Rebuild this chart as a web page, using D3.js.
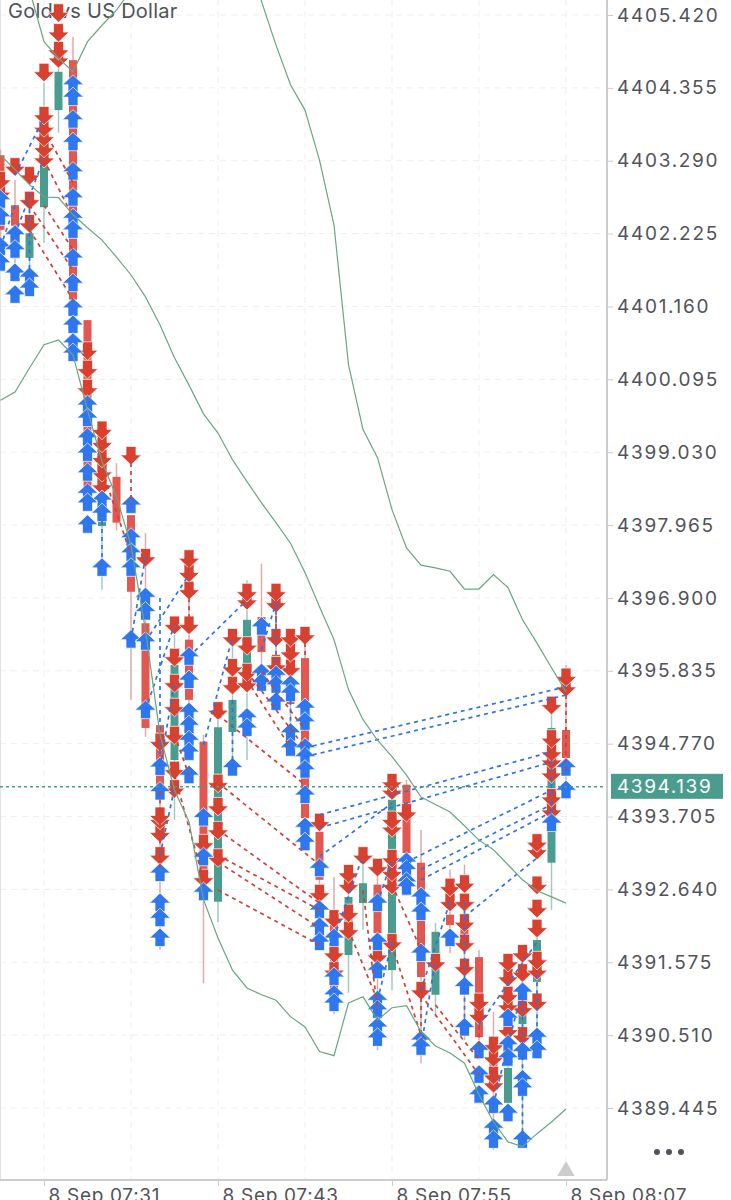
<!DOCTYPE html>
<html>
<head>
<meta charset="utf-8">
<script src="https://cdn.jsdelivr.net/npm/d3@7"></script>
<style>
  html, body { margin: 0; padding: 0; background: #fff; overflow: hidden; }
  text { font-family: "Inter", "Liberation Sans", sans-serif; }
</style>
</head>
<body>
<div id="chart"></div>
<script>
// Gold vs US Dollar, 1 minute candles with trade arrows. minute = minutes after 07:31

var svgWidth = 731;
var svgHeight = 1200;
var plotRight = 607;
var plotBottom = 1180;

var yTickValues = [4405.420, 4404.355, 4403.290, 4402.225, 4401.160, 4400.095, 4399.030, 4397.965,
    4396.900, 4395.835, 4394.770, 4393.705, 4392.640, 4391.575, 4390.510, 4389.445];
var xTickMinutes = [0, 12, 24, 36];
var xTickLabels = ["8 Sep 07:31", "8 Sep 07:43", "8 Sep 07:55", "8 Sep 08:07"];
var xGridMinutes = [0, 6, 12, 18, 24, 30, 36];
var lastPrice = 4394.139;

// minute, open, high, low, close
var candles = [
    [-3, 4403.37, 4403.45, 4401.69, 4402.28],
    [-2, 4402.64, 4403.01, 4401.66, 4402.34],
    [-1, 4401.87, 4402.64, 4401.47, 4402.23],
    [0, 4402.61, 4404.43, 4402.09, 4403.23],
    [1, 4404.03, 4405.06, 4403.70, 4404.59],
    [2, 4404.76, 4405.10, 4400.60, 4401.26],
    [3, 4400.96, 4400.96, 4398.19, 4398.48],
    [4, 4397.95, 4398.41, 4397.02, 4398.26],
    [5, 4398.67, 4398.87, 4397.89, 4398.00],
    [6, 4398.11, 4398.11, 4395.41, 4396.99],
    [7, 4396.53, 4397.85, 4394.87, 4395.00],
    [8, 4395.04, 4395.04, 4391.76, 4394.17],
    [9, 4394.53, 4396.36, 4393.66, 4395.92],
    [10, 4396.29, 4396.90, 4395.35, 4395.41],
    [11, 4394.80, 4394.90, 4391.27, 4392.92],
    [12, 4392.46, 4395.12, 4392.16, 4395.01],
    [13, 4394.94, 4396.30, 4394.39, 4395.41],
    [14, 4395.85, 4397.16, 4394.53, 4396.58],
    [15, 4396.62, 4397.40, 4395.56, 4396.11],
    [16, 4396.07, 4396.87, 4395.41, 4395.99],
    [17, 4395.41, 4396.30, 4394.75, 4395.35],
    [18, 4396.02, 4396.36, 4393.29, 4393.68],
    [19, 4393.48, 4393.73, 4391.83, 4392.78],
    [20, 4392.12, 4392.82, 4390.81, 4391.17],
    [21, 4391.68, 4392.78, 4391.13, 4392.53],
    [22, 4392.44, 4393.07, 4392.05, 4392.73],
    [23, 4392.71, 4392.93, 4390.29, 4392.00],
    [24, 4391.46, 4394.23, 4391.17, 4393.95],
    [25, 4394.17, 4394.24, 4392.55, 4393.17],
    [26, 4393.03, 4393.51, 4390.10, 4391.36],
    [27, 4391.10, 4392.15, 4390.78, 4392.02],
    [28, 4392.27, 4392.93, 4391.71, 4392.12],
    [29, 4392.10, 4393.00, 4390.44, 4391.90],
    [30, 4391.65, 4391.75, 4390.15, 4390.48],
    [31, 4390.15, 4390.85, 4388.83, 4389.89],
    [32, 4389.52, 4390.44, 4389.36, 4390.03],
    [33, 4390.67, 4391.75, 4388.86, 4390.85],
    [34, 4391.29, 4392.12, 4390.58, 4391.90],
    [35, 4393.03, 4395.38, 4392.34, 4395.00],
    [36, 4394.97, 4395.92, 4393.95, 4394.56]
];

// sell markers, red down arrows: minute, prices
var sellArrows = [
    [-3, [4403.01, 4402.83]],
    [-2, [4403.21]],
    [-1, [4403.08, 4402.72, 4402.38]],
    [0, [4404.59, 4403.96, 4403.78, 4403.64, 4403.48, 4403.33]],
    [1, [4405.46, 4405.17, 4404.91, 4404.79]],
    [3, [4400.52, 4400.25, 4399.97]],
    [4, [4399.36, 4399.17, 4398.95, 4398.74, 4398.55]],
    [6, [4398.99]],
    [7, [4397.50]],
    [8, [4394.80, 4393.72, 4393.66, 4393.47, 4393.14]],
    [9, [4396.51, 4396.04, 4395.66, 4395.31, 4394.90, 4394.39, 4394.12]],
    [10, [4397.48, 4397.27, 4397.02, 4396.51]],
    [11, [4393.32, 4392.81]],
    [12, [4395.26, 4394.20, 4393.86, 4393.51, 4393.11]],
    [13, [4396.33, 4395.89, 4395.63]],
    [14, [4396.99, 4396.87, 4396.21, 4395.82, 4395.66]],
    [16, [4396.99, 4396.83, 4396.33, 4395.92]],
    [17, [4396.33, 4396.11, 4395.88]],
    [18, [4396.36]],
    [19, [4393.63, 4392.59]],
    [20, [4392.22, 4391.71, 4391.46]],
    [21, [4392.88, 4392.71, 4392.30, 4392.05]],
    [22, [4393.14]],
    [23, [4392.97, 4391.68]],
    [24, [4394.21, 4394.09, 4393.66, 4393.55, 4393.10, 4392.90, 4392.71, 4391.87]],
    [25, [4393.77]],
    [26, [4391.17]],
    [27, [4391.58]],
    [28, [4392.68, 4392.46]],
    [29, [4392.73, 4392.46, 4392.16, 4391.86, 4391.51]],
    [30, [4391.00, 4390.81]],
    [31, [4390.37, 4390.19, 4389.93, 4389.81]],
    [32, [4391.58, 4391.36, 4391.10, 4390.95, 4390.59]],
    [33, [4391.71, 4391.43, 4390.91, 4390.51]],
    [34, [4393.33, 4393.22, 4392.71, 4392.37, 4392.08, 4391.61, 4391.46, 4391.00]],
    [35, [4395.34, 4394.85, 4394.65, 4394.53, 4394.34, 4393.99, 4393.80]],
    [36, [4395.75, 4395.60]]
];

// buy markers, blue up arrows: minute, prices
var buyArrows = [
    [-3, [4402.72, 4402.47, 4402.03, 4401.80]],
    [-2, [4402.21, 4401.99, 4401.65, 4401.33]],
    [-1, [4401.59, 4401.43]],
    [2, [4404.40, 4404.22, 4403.89, 4403.56, 4403.13, 4402.75, 4402.45, 4402.28, 4401.87, 4401.50, 4401.14, 4400.89, 4400.63, 4400.48]],
    [3, [4399.72, 4399.53, 4399.24, 4399.02, 4398.73, 4398.43, 4398.29, 4397.97]],
    [4, [4398.33, 4398.14, 4397.34]],
    [6, [4398.26, 4397.78, 4397.56, 4397.34, 4396.29]],
    [7, [4396.91, 4396.70, 4396.26, 4395.26]],
    [8, [4394.43, 4394.07, 4392.88, 4392.44, 4392.22, 4391.93]],
    [10, [4396.04, 4395.70, 4395.23, 4395.04, 4394.82, 4394.65, 4394.31]],
    [11, [4393.69, 4393.11, 4392.60]],
    [13, [4394.42]],
    [14, [4395.15, 4395.00]],
    [15, [4396.48, 4395.80, 4395.66]],
    [16, [4395.77, 4395.63, 4395.38]],
    [17, [4395.63, 4395.51, 4394.93, 4394.71]],
    [18, [4395.29, 4395.09, 4394.71, 4394.58, 4394.39, 4394.02, 4393.55, 4393.33]],
    [19, [4392.95, 4392.34, 4392.09, 4391.87]],
    [20, [4391.93, 4391.36, 4391.10, 4390.98]],
    [23, [4392.44, 4391.87, 4391.46, 4391.02, 4390.88, 4390.63, 4390.47]],
    [25, [4393.04, 4392.93, 4392.75, 4392.68]],
    [26, [4392.53, 4392.31, 4391.71, 4390.44, 4390.34]],
    [28, [4391.93]],
    [29, [4391.22, 4390.62]],
    [30, [4390.29, 4389.93, 4389.64]],
    [31, [4389.49, 4389.15, 4388.98]],
    [32, [4390.76, 4390.37, 4390.18, 4389.37]],
    [33, [4391.14, 4390.27, 4389.86, 4389.74, 4388.98]],
    [34, [4390.48, 4390.29]],
    [35, [4393.61]],
    [36, [4394.42, 4394.09]]
];

// dashed trade links: from minute, from price, to minute, to price
var blueLinks = [
    [18, 4394.71, 36, 4395.60], [18, 4394.58, 36, 4395.48],
    [19, 4393.73, 35, 4394.65], [19, 4393.54, 35, 4394.50],
    [19, 4393.12, 24, 4393.90], [25, 4393.04, 35, 4394.09],
    [26, 4392.93, 35, 4393.88], [26, 4392.78, 35, 4393.77],
    [29, 4392.24, 34, 4393.10], [7, 4395.26, 9, 4396.51],
    [6, 4396.29, 7, 4397.50], [7, 4396.26, 10, 4397.24],
    [10, 4396.04, 14, 4396.87], [15, 4396.14, 16, 4396.83],
    [11, 4394.75, 13, 4396.33], [8, 4393.14, 9, 4394.12],
    [8, 4394.43, 9, 4395.66], [-2, 4403.08, 0, 4403.92],
    [-2, 4402.21, 0, 4403.33], [-3, 4402.03, -2, 4402.64],
    [-1, 4401.59, -1, 4402.64], [23, 4391.02, 24, 4391.87],
    [26, 4390.34, 27, 4391.61], [26, 4391.17, 28, 4392.46],
    [20, 4391.93, 22, 4393.14], [23, 4392.44, 24, 4393.07],
    [30, 4390.66, 34, 4391.87], [31, 4389.49, 32, 4390.40],
    [32, 4390.37, 33, 4391.17], [13, 4395.41, 13, 4394.42],
    [17, 4395.63, 17, 4394.71], [16, 4396.83, 16, 4395.38],
    [29, 4392.46, 29, 4390.62], [33, 4391.02, 33, 4388.98],
    [4, 4398.14, 4, 4397.34], [35, 4394.53, 35, 4393.61],
    [34, 4391.40, 34, 4390.48], [8, 4396.90, 8, 4394.43]
];
var redLinks = [
    [0, 4403.74, 2, 4402.97], [0, 4403.30, 2, 4402.47],
    [0, 4402.64, 2, 4401.99], [-1, 4402.64, 2, 4401.69],
    [-1, 4402.28, 2, 4401.26], [4, 4398.77, 6, 4397.53],
    [9, 4394.31, 11, 4392.78], [9, 4394.90, 10, 4394.31],
    [12, 4395.19, 18, 4394.17], [12, 4394.20, 19, 4393.00],
    [12, 4393.51, 19, 4392.44], [12, 4393.14, 19, 4392.34],
    [12, 4393.04, 19, 4392.08], [12, 4392.63, 19, 4391.83],
    [14, 4395.70, 17, 4394.71], [14, 4395.82, 18, 4394.71],
    [15, 4395.82, 18, 4394.97], [21, 4392.05, 23, 4391.02],
    [22, 4392.63, 23, 4390.88], [24, 4391.83, 26, 4390.51],
    [24, 4392.71, 26, 4391.76], [26, 4391.10, 30, 4389.93],
    [27, 4390.95, 30, 4390.15], [6, 4398.99, 6, 4398.26],
    [10, 4397.48, 10, 4396.51], [16, 4396.99, 16, 4396.33],
    [18, 4396.36, 18, 4396.02], [31, 4390.37, 31, 4389.81],
    [36, 4395.60, 36, 4394.34], [30, 4391.00, 30, 4390.29],
    [26, 4391.17, 26, 4390.44], [8, 4394.07, 8, 4392.90]
];

// bollinger bands, one value per minute
var bandMinutes = d3.range(-3, 37);
var upperMinutes = d3.range(-1, 37);
var upperBand = [4405.79, 4405.03, 4404.79, 4404.59, 4405.03, 4405.27, 4405.49, 4405.79, 4406.1, 4406.4, 4406.5, 4406.6,
    4406.7, 4406.7, 4406.6, 4406.3, 4405.62, 4404.98, 4404.40, 4404.03, 4403.30, 4402.35, 4400.31, 4399.36, 4398.95, 4398.19,
    4397.63, 4397.38, 4397.34, 4397.29, 4397.03, 4397.03, 4397.24, 4397.05, 4396.58, 4396.24, 4395.88, 4395.53];
var middleBand = [4403.37, 4403.16, 4402.94, 4402.76, 4402.75, 4402.50, 4402.31, 4402.13, 4401.88, 4401.62, 4401.30,
    4400.89, 4400.41, 4400.01, 4399.59, 4399.31, 4398.92, 4398.60, 4398.29, 4398.00, 4397.70, 4397.27, 4396.77, 4396.29,
    4395.56, 4395.12, 4394.82, 4394.58, 4394.31, 4393.99, 4393.88, 4393.77, 4393.57, 4393.36, 4393.22, 4393.00, 4392.78,
    4392.62, 4392.53, 4392.44];
var lowerBand = [4399.79, 4399.91, 4400.26, 4400.60, 4400.67, 4400.45, 4399.65, 4398.89, 4398.38, 4397.67, 4396.43,
    4394.90, 4394.09, 4393.63, 4392.49, 4391.93, 4391.46, 4391.20, 4391.10, 4391.02, 4390.78, 4390.63, 4390.27, 4390.21,
    4390.98, 4391.07, 4390.73, 4390.91, 4390.94, 4390.56, 4390.35, 4390.25, 4390.10, 4389.64, 4389.24, 4388.95, 4388.88,
    4389.07, 4389.24, 4389.43];

var redColor = "#d8412f";
var candleRed = "#e2574f";
var blueColor = "#2f77ee";
var greenColor = "#4a9d8e";
var bandColor = "#6aa583";
var axisColor = "#cccccc";
var textColor = "#50535a";

var svg = d3.select("#chart").append("svg")
    .attr("width", svgWidth)
    .attr("height", svgHeight)
    .style("display", "block");

var xScale = d3.scaleLinear().domain([0, 36]).range([44, 566]);
var yScale = d3.scaleLinear().domain([4405.42, 4389.445]).range([15, 1108]);

svg.append("clipPath").attr("id", "plot")
    .append("rect").attr("width", plotRight).attr("height", plotBottom);

// grid
var gridGroup = svg.append("g").attr("stroke", "#efefef").attr("stroke-dasharray", "6 5");
gridGroup.selectAll(".hgrid").data(yTickValues).enter().append("line")
    .attr("x1", 0).attr("x2", plotRight)
    .attr("y1", d => yScale(d)).attr("y2", d => yScale(d));
gridGroup.selectAll(".vgrid").data(xGridMinutes).enter().append("line")
    .attr("x1", d => xScale(d)).attr("x2", d => xScale(d))
    .attr("y1", 0).attr("y2", plotBottom);

svg.append("line").attr("x1", 0.5).attr("x2", 0.5).attr("y1", 0).attr("y2", plotBottom)
    .attr("stroke", "#e2e2e2");

// title sits under the marks
svg.append("text").attr("x", 8).attr("y", 18)
    .attr("font-size", 20).attr("letter-spacing", 0.25).attr("fill", textColor)
    .text("Gold vs US Dollar");

var plot = svg.append("g").attr("clip-path", "url(#plot)");

// candles
var isUp = d => d[4] >= d[1];
plot.selectAll(".wick").data(candles).enter().append("line")
    .attr("x1", d => xScale(d[0])).attr("x2", d => xScale(d[0]))
    .attr("y1", d => yScale(d[2])).attr("y2", d => yScale(d[3]))
    .attr("stroke", d => isUp(d) ? "#a6c8c2" : "#dcabae")
    .attr("stroke-width", 1.5);
plot.selectAll(".body").data(candles).enter().append("rect")
    .attr("x", d => xScale(d[0]) - 4)
    .attr("width", 8)
    .attr("y", d => yScale(Math.max(d[1], d[4])))
    .attr("height", d => Math.abs(yScale(d[1]) - yScale(d[4])))
    .attr("fill", d => isUp(d) ? greenColor : candleRed);

// arrows, drawn so the upper sell and the lower buy stay whole
function flatten(rows) {
    var out = [];
    rows.forEach(function(row) {
        row[1].forEach(function(p) { out.push({ minute: row[0], price: p }); });
    });
    return out;
}
var downPath = "M-5,-8.5H5V0H10.5L0,10L-10.5,0H-5Z";
var upPath = "M0,-10L10.5,0H5V8.5H-5V0H-10.5Z";

plot.selectAll(".sell").data(flatten(sellArrows).sort((a, b) => a.price - b.price)).enter().append("path")
    .attr("d", downPath)
    .attr("transform", d => `translate(${xScale(d.minute)},${yScale(d.price)})`)
    .attr("fill", redColor)
    .attr("stroke", "#fff").attr("stroke-width", 0.7);

plot.selectAll(".buy").data(flatten(buyArrows).sort((a, b) => b.price - a.price)).enter().append("path")
    .attr("d", upPath)
    .attr("transform", d => `translate(${xScale(d.minute)},${yScale(d.price)})`)
    .attr("fill", blueColor)
    .attr("stroke", "#fff").attr("stroke-width", 0.7);

// dashed links
function drawLinks(rows, color) {
    plot.append("g").selectAll("line").data(rows).enter().append("line")
        .attr("x1", d => xScale(d[0])).attr("y1", d => yScale(d[1]))
        .attr("x2", d => xScale(d[2])).attr("y2", d => yScale(d[3]))
        .attr("stroke", color).attr("stroke-width", 1.7)
        .attr("stroke-dasharray", "4 4");
}
drawLinks(redLinks, "#cc4238");
drawLinks(blueLinks, "#2f72e4");

// bands
function drawBand(minutes, values) {
    var line = d3.line().x((d, i) => xScale(minutes[i])).y(d => yScale(d));
    plot.append("path").attr("d", line(values))
        .attr("fill", "none").attr("stroke", bandColor).attr("stroke-width", 1.2);
}
drawBand(upperMinutes, upperBand);
drawBand(bandMinutes, middleBand);
drawBand(bandMinutes, lowerBand);

// last price line
svg.append("line")
    .attr("x1", 0).attr("x2", plotRight)
    .attr("y1", yScale(lastPrice)).attr("y2", yScale(lastPrice))
    .attr("stroke", greenColor).attr("stroke-width", 1.5)
    .attr("stroke-dasharray", "3 3");

// axes
var rightAxis = d3.axisRight(yScale).tickValues(yTickValues).tickFormat(d3.format(".3f")).tickSize(6).tickPadding(4);
var yAxisGroup = svg.append("g").attr("transform", `translate(${plotRight},0)`).call(rightAxis);
yAxisGroup.select(".domain").attr("stroke", axisColor).attr("stroke-width", 2).attr("d", `M0,0V${plotBottom}`);
yAxisGroup.selectAll(".tick line").attr("stroke", axisColor);
yAxisGroup.selectAll("text").attr("fill", textColor).attr("font-size", 19).attr("letter-spacing", 1.7)
    .style("font-family", '"Inter", sans-serif');

var bottomAxis = d3.axisBottom(xScale).tickValues(xTickMinutes)
    .tickFormat((d, i) => xTickLabels[i]).tickSize(6);
var xAxisGroup = svg.append("g").attr("transform", `translate(0,${plotBottom})`).call(bottomAxis);
xAxisGroup.select(".domain").attr("stroke", axisColor).attr("stroke-width", 2).attr("d", `M0,0H${plotRight}`);
xAxisGroup.selectAll(".tick line").attr("stroke", axisColor);
xAxisGroup.selectAll("text")
    .attr("text-anchor", "start").attr("x", 4).attr("y", 22).attr("dy", 0)
    .attr("fill", textColor).attr("font-size", 19).attr("letter-spacing", 0.7)
    .style("font-family", '"Inter", sans-serif');

// last price tag
svg.append("rect")
    .attr("x", 611).attr("width", 112)
    .attr("y", yScale(lastPrice) - 13).attr("height", 25)
    .attr("fill", greenColor);
svg.append("text")
    .attr("x", 617).attr("y", yScale(lastPrice) + 6)
    .attr("fill", "#fff").attr("font-size", 19).attr("letter-spacing", 1.6)
    .text(d3.format(".3f")(lastPrice));

// marker triangle and the menu dots
svg.append("path")
    .attr("d", d3.symbol(d3.symbolTriangle, 130)())
    .attr("transform", `translate(${xScale(36)},${plotBottom - 9})`)
    .attr("fill", axisColor);
svg.selectAll(".dot").data([657, 669, 681]).enter().append("circle")
    .attr("cx", d => d).attr("cy", 1152).attr("r", 3).attr("fill", textColor);
</script>
</body>
</html>
